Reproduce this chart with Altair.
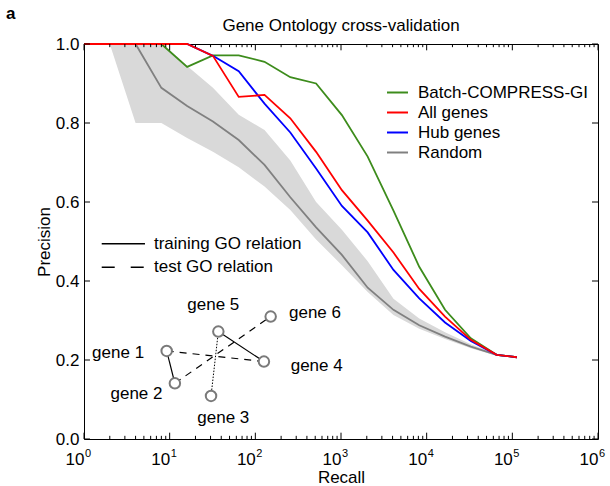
import altair as alt
import pandas as pd

# Recall cut-offs: powers of two, then the full set of pairs
recall = [1, 2, 4, 8, 16, 32, 64, 128, 256, 512, 1024, 2048, 4096, 8192,
          16384, 32768, 65536, 113000]

batch_compress = [1.0, 1.0, 1.0, 1.0, 0.942, 0.971, 0.971, 0.955, 0.916, 0.900,
                  0.820, 0.715, 0.578, 0.436, 0.327, 0.255, 0.213, 0.207]
all_genes = [1.0, 1.0, 1.0, 1.0, 1.0, 0.970, 0.866, 0.871, 0.812, 0.727,
             0.630, 0.553, 0.472, 0.380, 0.310, 0.251, 0.213, 0.207]
hub_genes = [1.0, 1.0, 1.0, 1.0, 1.0, 0.970, 0.931, 0.849, 0.776, 0.685,
             0.590, 0.523, 0.428, 0.356, 0.295, 0.248, 0.213, 0.207]
random_mean = [1.0, 1.0, 1.0, 0.889, 0.843, 0.804, 0.757, 0.694, 0.612, 0.536,
               0.466, 0.383, 0.327, 0.288, 0.259, 0.234, 0.213, 0.207]
random_hi = [1.0, 1.0, 1.0, 1.0, 0.944, 0.889, 0.821, 0.782, 0.705, 0.600,
             0.530, 0.450, 0.355, 0.305, 0.270, 0.240, 0.215, 0.207]
random_lo = [1.0, 1.0, 0.800, 0.800, 0.762, 0.727, 0.688, 0.639, 0.580, 0.505,
             0.440, 0.372, 0.314, 0.279, 0.253, 0.230, 0.211, 0.207]

series_names = ["Batch-COMPRESS-GI", "All genes", "Hub genes", "Random"]
series_colors = ["#3d8c1c", "#ff0000", "#0000ff", "#808080"]

# Schematic network: node positions in (recall, precision) space
gene_names = ["gene 1", "gene 2", "gene 3", "gene 4", "gene 5", "gene 6"]
gene_x = [9.23, 11.5, 30.4, 126, 37.0, 151]
gene_y = [0.223, 0.141, 0.109, 0.196, 0.272, 0.310]
gene_label_x = [2.5, 4.1, 42.3, 520, 32.3, 497]
gene_label_y = [0.217, 0.114, 0.052, 0.186, 0.339, 0.320]

training_edges = [("gene 1", "gene 2"), ("gene 5", "gene 4")]
test_edges = [("gene 1", "gene 4"), ("gene 2", "gene 6")]
hidden_edges = [("gene 3", "gene 5")]

key_labels = ["training GO relation", "test GO relation"]
key_y = [0.494, 0.435]
key_x0, key_x1, key_text_x = 1.61, 5.15, 6.56

x_major = [1, 10, 100, 1000, 10000, 100000, 1000000]
x_exponents = ["0", "1", "2", "3", "4", "5", "6"]
y_major = [0.0, 0.2, 0.4, 0.6, 0.8, 1.0]

title_text = "Gene Ontology cross-validation"
panel_text = "a"

FONT = "Liberation Sans"
FS = 17
W, H = 514, 395

x_scale = alt.Scale(type="log", domain=[1, 1e6], nice=False)
y_scale = alt.Scale(domain=[0, 1], nice=False, zero=False)

# one axis definition shared by every layer so the layers merge cleanly
x_axis = alt.Axis(values=x_major, labelExpr="'10'", title="Recall",
                  ticks=False, domain=False, grid=False,
                  labelAlign="right", labelPadding=12,
                  labelFontSize=FS, labelFont=FONT,
                  titleFontSize=FS, titleFont=FONT,
                  titleFontWeight="normal", titlePadding=2,
                  labelColor="black", titleColor="black")
y_axis = alt.Axis(values=y_major, format=".1f", title="Precision",
                  ticks=False, domain=False, grid=False,
                  labelPadding=5, labelFontSize=FS, labelFont=FONT,
                  titleFontSize=FS, titleFont=FONT,
                  titleFontWeight="normal", titlePadding=2,
                  labelColor="black", titleColor="black")


def X(field):
    return alt.X(field, type="quantitative", scale=x_scale, axis=x_axis)


def Y(field):
    return alt.Y(field, type="quantitative", scale=y_scale, axis=y_axis)


curves = pd.DataFrame({
    "recall": recall * 4,
    "precision": batch_compress + all_genes + hub_genes + random_mean,
    "series": sum([[n] * len(recall) for n in series_names], []),
})
band = pd.DataFrame({"recall": recall, "lo": random_lo, "hi": random_hi})

color = alt.Color(
    "series:N",
    scale=alt.Scale(domain=series_names, range=series_colors),
    legend=alt.Legend(
        title=None, orient="none", legendX=302, legendY=37,
        symbolType="stroke", symbolSize=441, symbolStrokeWidth=2,
        labelFontSize=FS, labelFont=FONT, labelOffset=9, rowPadding=0,
        labelColor="black", labelLimit=400,
    ),
)

band_layer = alt.Chart(band).mark_area(color="#d9d9d9", opacity=1).encode(
    x=X("recall"), y=Y("lo"), y2="hi:Q",
)


def curve(name):
    return alt.Chart(curves).transform_filter(
        alt.datum.series == name
    ).mark_line(strokeWidth=1.8).encode(
        x=X("recall"), y=Y("precision"), color=color,
    )


lines = [curve(n) for n in ["Random", "Batch-COMPRESS-GI", "Hub genes", "All genes"]]

# tick marks drawn inside the frame
minor_x = [m * 10 ** k for k in range(6) for m in range(2, 10)]
tick_rows = []
for v in x_major:
    tick_rows.append({"x": v, "x2": v, "y": 0.0, "y2": 0.016})
    tick_rows.append({"x": v, "x2": v, "y": 1.0, "y2": 0.984})
for v in minor_x:
    tick_rows.append({"x": v, "x2": v, "y": 0.0, "y2": 0.008})
    tick_rows.append({"x": v, "x2": v, "y": 1.0, "y2": 0.992})
for v in y_major:
    tick_rows.append({"x": 1.0, "x2": 1.175, "y": v, "y2": v})
    tick_rows.append({"x": 1e6, "x2": 1e6 / 1.175, "y": v, "y2": v})
ticks = alt.Chart(pd.DataFrame(tick_rows)).mark_rule(
    color="black", strokeWidth=1).encode(
    x=X("x"), x2="x2:Q", y=Y("y"), y2="y2:Q",
)

exp_df = pd.DataFrame({"x": x_major, "e": x_exponents, "y": [0.0] * 7})
exponents = alt.Chart(exp_df).mark_text(
    align="left", baseline="middle", dx=1, dy=15, fontSize=11, font=FONT,
    color="black").encode(
    x=X("x"), y=Y("y"), text="e:N",
)

# network schematic
pos = dict(zip(gene_names, zip(gene_x, gene_y)))


def edge_frame(edges):
    rows = []
    for i, (a, b) in enumerate(edges):
        for g in (a, b):
            rows.append({"edge": i, "x": pos[g][0], "y": pos[g][1]})
    return pd.DataFrame(rows)


def edge_layer(edges, dash, width):
    kw = {"strokeDash": dash} if dash else {}
    return alt.Chart(edge_frame(edges)).mark_line(
        color="black", strokeWidth=width, **kw).encode(
        x=X("x"), y=Y("y"), detail="edge:N",
    )


edges_solid = edge_layer(training_edges, None, 1.2)
edges_dash = edge_layer(test_edges, [7, 6], 1.2)
edges_dot = edge_layer(hidden_edges, [1.5, 1.5], 1.0)

genes = pd.DataFrame({"gene": gene_names, "x": gene_x, "y": gene_y,
                      "lx": gene_label_x, "ly": gene_label_y})
nodes = alt.Chart(genes).mark_point(
    shape="circle", size=110, fill="white", stroke="#7a7a7a",
    strokeWidth=2, opacity=1, fillOpacity=1).encode(
    x=X("x"), y=Y("y"),
)
node_labels = alt.Chart(genes).mark_text(
    fontSize=FS, font=FONT, color="black", align="center",
    baseline="middle").encode(
    x=X("lx"), y=Y("ly"), text="gene:N",
)

key = pd.DataFrame({"label": key_labels, "y": key_y,
                    "x0": [key_x0] * 2, "x1": [key_x1] * 2,
                    "tx": [key_text_x] * 2})
key_solid = alt.Chart(key.iloc[[0]]).mark_rule(
    color="black", strokeWidth=1.5).encode(
    x=X("x0"), x2="x1:Q", y=Y("y"),
)
key_dash = alt.Chart(key.iloc[[1]]).mark_rule(
    color="black", strokeWidth=1.5, strokeDash=[13, 16]).encode(
    x=X("x0"), x2="x1:Q", y=Y("y"),
)
key_text = alt.Chart(key).mark_text(
    fontSize=FS, font=FONT, color="black", align="left",
    baseline="middle").encode(
    x=X("tx"), y=Y("y"), text="label:N",
)

# chart title and panel letter set above the frame
header = pd.DataFrame({"t": [title_text]})
title_mark = alt.Chart(header).mark_text(
    fontSize=FS, font=FONT, color="black", align="center",
    baseline="middle").encode(
    x=alt.value(W / 2), y=alt.value(-18), text="t:N",
)
panel_letter = alt.Chart(pd.DataFrame({"t": [panel_text]})).mark_text(
    fontSize=FS, font=FONT, fontWeight="bold", color="black",
    align="left", baseline="middle").encode(
    x=alt.value(-78), y=alt.value(-30), text="t:N",
)

chart = alt.layer(
    band_layer, *lines, ticks, exponents,
    edges_solid, edges_dash, edges_dot, nodes, node_labels,
    key_solid, key_dash, key_text, title_mark, panel_letter,
).properties(
    width=W, height=H,
    autosize=alt.AutoSizeParams(type="none"),
    padding={"left": 84, "top": 44, "right": 12, "bottom": 47},
).configure(
    font=FONT, background="white",
    view=alt.ViewConfig(stroke="black", strokeWidth=1),
)

chart.save("out.html", embed_options={"renderer": "svg", "actions": False})
